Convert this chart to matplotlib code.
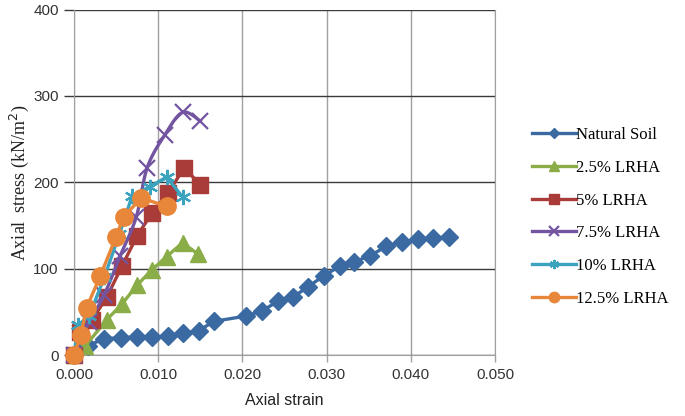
import matplotlib
matplotlib.use("Agg")
import matplotlib.pyplot as plt
import numpy as np

# ---- data ----
natural_strain = [0.0, 0.0017, 0.0036, 0.0056, 0.0075, 0.0093, 0.0112, 0.0129, 0.0148, 0.0166,
                  0.0204, 0.0223, 0.0242, 0.0260, 0.0278, 0.0297, 0.0316, 0.0333, 0.0352,
                  0.0371, 0.0390, 0.0409, 0.0426, 0.0445]
natural_stress = [0, 11, 19, 20, 21, 21, 22, 25, 28, 39,
                  45, 51, 62, 67, 79, 92, 103, 108, 115,
                  126, 131, 134, 135, 137]

lr25_strain = [0.0, 0.0013, 0.0039, 0.0057, 0.0075, 0.0093, 0.0110, 0.0129, 0.0147]
lr25_stress = [0, 10, 41, 59, 81, 99, 114, 130, 117]

lr5_strain = [0.0, 0.0007, 0.0021, 0.0039, 0.0057, 0.0075, 0.0093, 0.0112, 0.0131, 0.0150]
lr5_stress = [0, 27, 40, 67, 103, 138, 165, 188, 217, 197]

lr75_strain = [0.0, 0.0018, 0.0036, 0.0055, 0.0074, 0.0087, 0.0108, 0.0129, 0.0150]
lr75_stress = [0, 38, 70, 115, 160, 217, 255, 281, 271]

lr10_strain = [0.0, 0.0005, 0.0018, 0.0036, 0.0054, 0.0069, 0.0090, 0.0110, 0.0129]
lr10_stress = [0, 35, 45, 90, 140, 184, 195, 206, 183]

lr125_strain = [0.0, 0.0008, 0.0015, 0.0031, 0.0050, 0.0059, 0.0080, 0.0110]
lr125_stress = [0, 23, 55, 91, 137, 160, 182, 172]

labels = ["Natural Soil", "2.5% LRHA", "5% LRHA", "7.5% LRHA", "10% LRHA", "12.5% LRHA"]
x_ticks = [0.0, 0.01, 0.02, 0.03, 0.04, 0.05]
y_ticks = [0, 100, 200, 300, 400]

colors = ["#3B6AA3", "#8AAD48", "#A93B38", "#7354A0", "#3BA3BE", "#E8873A"]


def smooth(xs, ys, n=12):
    """Catmull-Rom path through the points (rendering only, like Excel's smoothed line)."""
    P = np.column_stack([xs, ys]).astype(float)
    P = np.vstack([P[0], P, P[-1]])
    out = []
    t = np.linspace(0, 1, n, endpoint=False)
    for i in range(1, len(P) - 2):
        p0, p1, p2, p3 = P[i - 1], P[i], P[i + 1], P[i + 2]
        tt = t[:, None]
        seg = 0.5 * ((2 * p1) + (-p0 + p2) * tt + (2 * p0 - 5 * p1 + 4 * p2 - p3) * tt ** 2
                     + (-p0 + 3 * p1 - 3 * p2 + p3) * tt ** 3)
        out.append(seg)
    out.append(P[-2][None, :])
    out = np.vstack(out)
    return out[:, 0], out[:, 1]


fig = plt.figure(figsize=(6.85, 4.16), dpi=100)
ax = fig.add_axes([0.108, 0.1466, 0.6146, 0.8304])

series = [
    (natural_strain, natural_stress, dict(marker="D", ms=9), False),
    (lr25_strain, lr25_stress, dict(marker="^", ms=12), False),
    (lr5_strain, lr5_stress, dict(marker="s", ms=11), False),
    (lr75_strain, lr75_stress, dict(marker="x", ms=11, mew=1.6), True),
    (lr10_strain, lr10_stress, dict(marker=(6, 2, 0), ms=11, mew=1.6), False),
    (lr125_strain, lr125_stress, dict(marker="o", ms=12.5), False),
]
for (xs, ys, mk, sm), lab, c in zip(series, labels, colors):
    if sm:
        sx, sy = smooth(xs, ys)
        ax.plot(sx, sy, color=c, lw=2.4, clip_on=False, zorder=3)
        ax.plot(xs, ys, color=c, lw=0, mec=c, mfc=c, clip_on=False, zorder=3, **mk)
        ax.plot([], [], color=c, lw=2.4, label=lab, mec=c, mfc=c, **mk)
    else:
        ax.plot(xs, ys, color=c, lw=2.4, label=lab, mec=c, mfc=c, clip_on=False, zorder=3, **mk)

ax.set_xlim(0, 0.05)
ax.set_ylim(0, 400)
ax.set_xticks(x_ticks)
ax.set_xticklabels([f"{v:.3f}" for v in x_ticks])
ax.set_yticks(y_ticks)

ax.grid(axis="y", color="#3a3a3a", lw=1.0, zorder=0)
ax.grid(axis="x", color="#a0a0a0", lw=1.0, zorder=0)
ax.spines["top"].set_visible(False)
ax.spines["left"].set_color("#a0a0a0")
ax.spines["bottom"].set_color("#a0a0a0")
ax.spines["right"].set_color("#a0a0a0")
ax.tick_params(axis="y", length=7, color="#3a3a3a", width=1.0, labelsize=11, pad=4)
ax.tick_params(axis="x", length=5, color="#a0a0a0", width=1.0, labelsize=11, pad=4)
for t in ax.get_xticklabels() + ax.get_yticklabels():
    t.set_fontfamily("Liberation Sans")
    t.set_color("#333333")

fig.text(19 / 685, 1 - 183 / 416, "Axial  stress (kN/m$^2$)", fontfamily="Liberation Serif",
         fontsize=13, color="#222222", rotation=90, ha="center", va="center")
ax.set_xlabel("Axial strain", fontfamily="Liberation Sans", fontsize=11.5, color="#222222",
              labelpad=8)

leg = fig.legend(loc="upper left", bbox_to_anchor=(0.755, 0.73), frameon=False,
                 prop={"family": "Liberation Serif", "size": 12}, handlelength=2.6,
                 handletextpad=0.05, labelspacing=1.0, markerscale=0.6)

fig.savefig("out.png", dpi=100)
